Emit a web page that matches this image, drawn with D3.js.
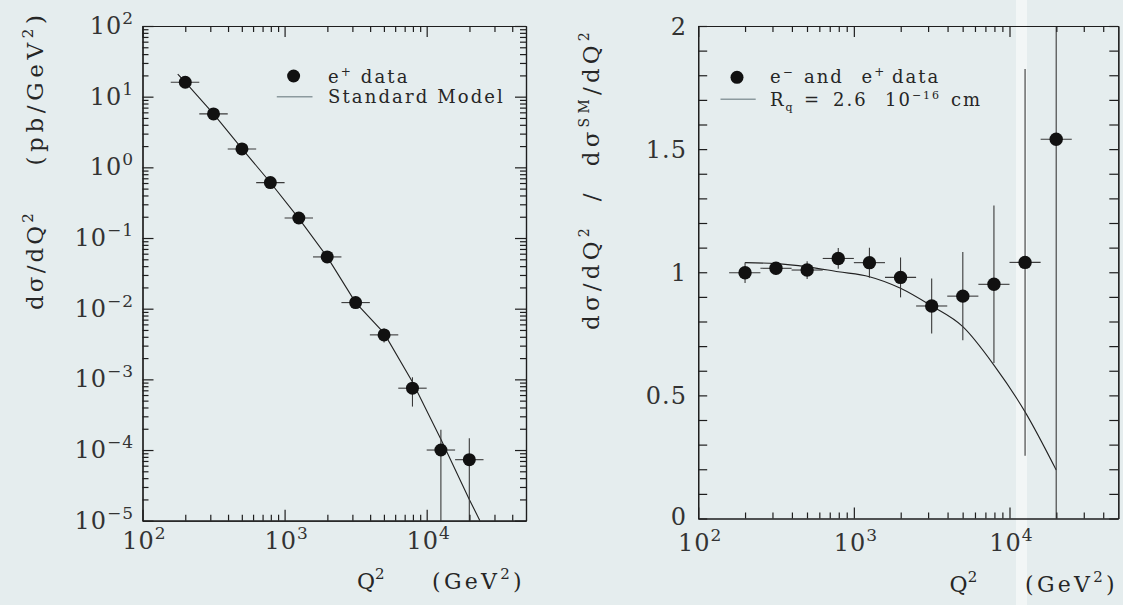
<!DOCTYPE html>
<html><head><meta charset="utf-8">
<script src="https://cdn.jsdelivr.net/npm/d3@7"></script>
<style>
html,body{margin:0;padding:0;background:#e5edee;}
svg{display:block;}
text{font-family:"DejaVu Serif",serif;fill:#262626;white-space:pre;}
</style></head><body>
<svg id="c" width="1123" height="605"></svg>
<script>
// ---------------- data ----------------
const binQ   = [200, 316, 501, 794, 1259, 1995, 3162, 5012, 7943, 12589, 19953];
const binLo  = [158, 251, 398, 631, 1000, 1585, 2512, 3981, 6310, 10000, 15849];
const binHi  = [251, 398, 631, 1000, 1585, 2512, 3981, 6310, 10000, 15849, 25119];
// left panel: e+ cross section (pb/GeV^2)
const xsecVal = [16.0, 5.7, 1.82, 0.608, 0.192, 0.054, 0.0122, 0.00426, 7.5e-4, 1.0e-4, 7.3e-5];
const xsecLo  = [15.3, 5.4, 1.72, 0.57, 0.178, 0.049, 0.0107, 0.00332, 4.12e-4, 1e-6, 1e-6];
const xsecHi  = [16.7, 6.0, 1.93, 0.65, 0.207, 0.060, 0.0139, 0.00524, 1.07e-3, 1.93e-4, 1.47e-4];
// Standard Model curve
const smQ   = [177, 200, 316, 501, 794, 1259, 1995, 3162, 5012, 7943, 12589, 19953, 23700];
const smVal = [20.9, 16.0, 5.7, 1.84, 0.61, 0.19, 0.054, 0.0122, 0.0045, 9.2e-4, 1.42e-4, 2.0e-5, 1.0e-5];
// right panel: ratio to SM (e- and e+ data)
const ratioVal = [0.998, 1.016, 1.009, 1.056, 1.039, 0.979, 0.863, 0.903, 0.951, 1.040, 1.540];
const ratioErr = [0.042, 0.025, 0.036, 0.042, 0.061, 0.081, 0.112, 0.179, 0.32, 0.785, 1.6];
// quark radius curve Rq = 2.6e-16 cm
const rqQ   = [200, 316, 501, 794, 1259, 1995, 3162, 5012, 7943, 12589, 19953];
const rqVal = [1.039, 1.035, 1.022, 1.002, 0.982, 0.935, 0.863, 0.779, 0.623, 0.433, 0.197];
// tick labels
const xMajor = [100, 1000, 10000];
const xMajorExp = ["2", "3", "4"];
const yLogExp = [2, 1, 0, -1, -2, -3, -4, -5];
const yLinLabels = [0, 0.5, 1, 1.5, 2];

// ---------------- helpers ----------------
const svg = d3.select("#c");
svg.append("rect").attr("width",1123).attr("height",605).attr("fill","#e5edee");
svg.append("rect").attr("x",1016).attr("y",0).attr("width",11).attr("height",605).attr("fill","#f2f6f6");

function rich(g, parts, size, supSize, supShift, subShift){
  const t = g.append("text").style("font-size", size+"px");
  let cur = 0;
  parts.forEach(p=>{
    const [s,type,x] = p;
    const target = type==="sup" ? -supShift : (type==="sub" ? subShift : 0);
    const ts = t.append("tspan").attr("dy", target-cur)
      .style("font-size", (type==="n"?size:supSize)+"px").text(s);
    if (x!==undefined) ts.attr("x", x);
    cur = target;
  });
  return t;
}
function fit(t, w){
  const n = t.text().length;
  const nat = t.node().getComputedTextLength();
  t.style("letter-spacing", ((w-nat)/n)+"px");
}
function logMinor(lo, hi){
  const out=[];
  for(let e=Math.floor(Math.log10(lo)); e<=Math.ceil(Math.log10(hi)); e++){
    for(let k=2;k<=9;k++){ const v=k*Math.pow(10,e); if(v>lo && v<hi) out.push(v); }
  }
  return out;
}
function drawAxes(g, x, y, yTicksMajor, yTicksMinor, majL, minL, yMajL, yMinL){
  const [x0,x1]=x.range(), [y1,y0]=y.range();
  const style = s => s.attr("stroke","#1e1e1e").attr("stroke-width",1.2);
  const mk = (ax, ticks, len, tr) => {
    const a = g.append("g").attr("transform",tr)
      .call(ax.tickValues(ticks).tickSizeInner(-len).tickSizeOuter(0).tickFormat(""));
    a.selectAll("path,line").call(style);
    a.selectAll("text").remove();
  };
  const xmin = logMinor(x.domain()[0], x.domain()[1]);
  mk(d3.axisBottom(x), xMajor, majL, `translate(0,${y1})`);
  mk(d3.axisBottom(x), xmin, minL, `translate(0,${y1})`);
  mk(d3.axisTop(x), xMajor, majL, `translate(0,${y0})`);
  mk(d3.axisTop(x), xmin, minL, `translate(0,${y0})`);
  mk(d3.axisLeft(y), yTicksMajor, yMajL, `translate(${x0},0)`);
  mk(d3.axisLeft(y), yTicksMinor, yMinL, `translate(${x0},0)`);
  mk(d3.axisRight(y), yTicksMajor, yMajL, `translate(${x1},0)`);
  mk(d3.axisRight(y), yTicksMinor, yMinL, `translate(${x1},0)`);
}

// ================= LEFT PANEL =================
const xL = d3.scaleLog().domain([100, 50000]).range([142.5, 526]);
const yL = d3.scaleLog().domain([1e-5, 100]).range([520.7, 26]);
const gL = svg.append("g");
gL.append("clipPath").attr("id","clipL").append("rect")
  .attr("x",142.5).attr("y",26).attr("width",526-142.5).attr("height",520.7-26);
const pL = gL.append("g").attr("clip-path","url(#clipL)");

pL.append("path").datum(smQ.map((q,i)=>({q, v:smVal[i]})))
  .attr("d", d3.line().x(d=>xL(d.q)).y(d=>yL(d.v)))
  .attr("fill","none").attr("stroke","#222").attr("stroke-width",1.1);
binQ.forEach((q,i)=>{
  pL.append("line").attr("x1",xL(binLo[i])).attr("x2",xL(binHi[i]))
    .attr("y1",yL(xsecVal[i])).attr("y2",yL(xsecVal[i]))
    .attr("stroke","#3a3a3a").attr("stroke-width",1.1);
  pL.append("line").attr("x1",xL(q)).attr("x2",xL(q))
    .attr("y1",yL(xsecLo[i])).attr("y2",yL(xsecHi[i]))
    .attr("stroke","#3a3a3a").attr("stroke-width",1.1);
  pL.append("circle").attr("cx",xL(q)).attr("cy",yL(xsecVal[i])).attr("r",6.5).attr("fill","#111");
});
const yLMajor = yLogExp.map(e=>Math.pow(10,e));
drawAxes(gL, xL, yL, yLMajor, logMinor(1e-5,100), 11, 6, 11, 6);

// tick labels
yLogExp.forEach(e=>{
  const t = rich(gL, [["10","n"],[e<0?"\u2212"+(-e):String(e),"sup"]], 24, 17, 10, 0);
  t.attr("x",134).attr("y",yL(Math.pow(10,e))+8).attr("text-anchor","end").style("letter-spacing","1px").style("fill","#333");
});
xMajor.forEach((v,i)=>{
  const t = rich(gL, [["10","n"],[xMajorExp[i],"sup"]], 24, 17, 10, 0);
  t.attr("x",xL(v)+2).attr("y",549).attr("text-anchor","middle").style("letter-spacing","1px").style("fill","#333");
});
// axis titles
{
  const t1 = rich(gL, [["Q","n"],["2","sup"]], 22, 15, 10, 0);
  t1.attr("x",357).attr("y",589);
  const t2 = rich(gL, [["(GeV","n"],["2","sup"],[")","n"]], 22, 15, 10, 0);
  t2.attr("x",432).attr("y",589); fit(t2, 93);
  const a = gL.append("g").attr("transform","translate(43,260) rotate(-90)");
  const t3 = rich(a, [["d\u03c3/dQ","n"],["2","sup"]], 23, 15, 10, 0);
  t3.attr("x",0).attr("y",0).attr("text-anchor","middle"); fit(t3, 100);
  const b = gL.append("g").attr("transform","translate(43,88) rotate(-90)");
  const t4 = rich(b, [["(pb/GeV","n"],["2","sup"],[")","n"]], 23, 15, 10, 0);
  t4.attr("x",0).attr("y",0).attr("text-anchor","middle"); fit(t4, 155);
}
// legend
gL.append("circle").attr("cx",293.6).attr("cy",76).attr("r",6.5).attr("fill","#111");
{
  const t = rich(gL, [["e","n",328],["+","sup"],["data","n",360.7]], 18, 12, 7, 0);
  t.attr("y",82.7).style("letter-spacing","2.2px");
  gL.append("line").attr("x1",276.8).attr("x2",312.5).attr("y1",96.7).attr("y2",96.7)
    .attr("stroke","#8c9a9e").attr("stroke-width",1.5);
  const t2 = gL.append("text").attr("x",328).attr("y",102.7).style("font-size","18px").text("Standard Model");
  fit(t2, 177);
}

// ================= RIGHT PANEL =================
const xR = d3.scaleLog().domain([100, 50000]).range([698.2, 1118.3]);
const yR = d3.scaleLinear().domain([0, 2]).range([518.5, 26]);
const gR = svg.append("g");
gR.append("clipPath").attr("id","clipR").append("rect")
  .attr("x",698.2).attr("y",26).attr("width",1118.3-698.2).attr("height",518.5-26);
const pR = gR.append("g").attr("clip-path","url(#clipR)");
pR.append("path").datum(rqQ.map((q,i)=>({q, v:rqVal[i]})))
  .attr("d", d3.line().x(d=>xR(d.q)).y(d=>yR(d.v)).curve(d3.curveMonotoneX))
  .attr("fill","none").attr("stroke","#222").attr("stroke-width",1.1);
binQ.forEach((q,i)=>{
  pR.append("line").attr("x1",xR(binLo[i])).attr("x2",xR(binHi[i]))
    .attr("y1",yR(ratioVal[i])).attr("y2",yR(ratioVal[i]))
    .attr("stroke","#3a3a3a").attr("stroke-width",1.1);
  pR.append("line").attr("x1",xR(q)).attr("x2",xR(q))
    .attr("y1",yR(ratioVal[i]-ratioErr[i])).attr("y2",yR(ratioVal[i]+ratioErr[i]))
    .attr("stroke","#3a3a3a").attr("stroke-width",1.1);
  pR.append("circle").attr("cx",xR(q)).attr("cy",yR(ratioVal[i])).attr("r",6.7).attr("fill","#111");
});
const yRTicks = d3.range(0, 21).map(k=>k/10);
drawAxes(gR, xR, yR, yRTicks, [], 11, 6, 9, 0);
yLinLabels.forEach(v=>{
  gR.append("text").attr("x",687).attr("y",yR(v)+(v===0?6:9)).attr("text-anchor","end")
    .style("font-size","24px").style("letter-spacing","1px").style("fill","#333").text(String(v));
});
xMajor.forEach((v,i)=>{
  const t = rich(gR, [["10","n"],[xMajorExp[i],"sup"]], 24, 17, 10, 0);
  t.attr("x",xR(v)+2).attr("y",551).attr("text-anchor","middle").style("letter-spacing","1px").style("fill","#333");
});
{
  const t1 = rich(gR, [["Q","n"],["2","sup"]], 22, 15, 10, 0);
  t1.attr("x",949.6).attr("y",592);
  const t2 = rich(gR, [["(GeV","n"],["2","sup"],[")","n"]], 22, 15, 10, 0);
  t2.attr("x",1025).attr("y",592); fit(t2, 93);
  const a = gR.append("g").attr("transform","translate(599,179) rotate(-90)");
  const t3 = rich(a, [["d\u03c3/dQ","n"],["2","sup"],["  /  d\u03c3","n"],["SM","sup"],["/dQ","n"],["2","sup"]], 23, 14, 10, 0);
  t3.attr("x",0).attr("y",0).attr("text-anchor","middle"); fit(t3, 302);
}
// legend
gR.append("circle").attr("cx",737).attr("cy",77.3).attr("r",6.5).attr("fill","#111");
{
  const t = rich(gR, [["e","n",770],["\u2212","sup"],["and","n",804],["e","n",861.6],["+","sup"],["data","n",892]], 18, 12, 7, 0);
  t.attr("y",83.3).style("letter-spacing","2px");
  gR.append("line").attr("x1",720.5).attr("x2",755.7).attr("y1",99.3).attr("y2",99.3)
    .attr("stroke","#8c9a9e").attr("stroke-width",1.5);
  const t2 = rich(gR, [["R","n",770],["q","sub"],["=","n",804],["2.6","n",833],["10","n",885],["\u221216","sup"],["cm","n",951]], 18, 11, 7, 5);
  t2.attr("y",106).style("letter-spacing","2px");
}
</script>
</body></html>
